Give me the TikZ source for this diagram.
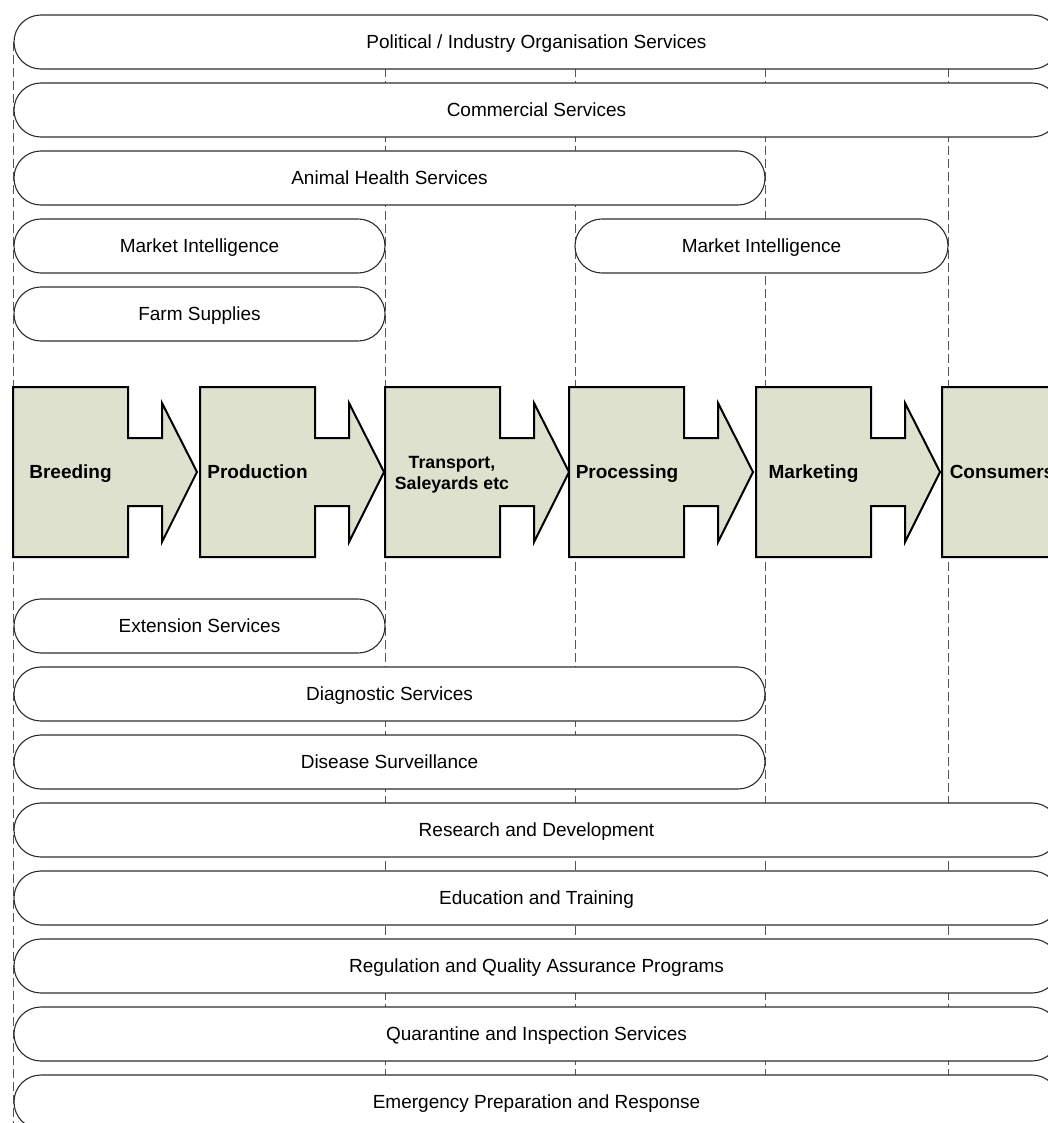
\documentclass[tikz,border=0pt]{standalone}
\usepackage{fontspec}
\setmainfont{Liberation Sans}
\definecolor{puzfill}{RGB}{222,225,205}
\definecolor{pillline}{RGB}{45,45,45}
\definecolor{guidecol}{RGB}{85,85,85}
\tikzset{
  pill/.style={draw=pillline, line width=1.1pt, fill=white, rounded corners=26.9pt,
    minimum height=54pt, inner sep=0pt, text height=13.6pt, text depth=0pt,
    font=\fontsize{19}{22}\selectfont},
  guide/.style={draw=guidecol, line width=1pt, dash pattern=on 9pt off 4pt},
  puzzle/.style={draw=black, line width=2pt, fill=puzfill, line join=miter},
  plabel/.style={font=\bfseries\fontsize{19}{22}\selectfont, inner sep=0pt,
    text height=13.6pt, text depth=0pt},
  puzzlepiece/.pic={\path[puzzle] (0,0) -- (115,0) -- (115,51) -- (149,51) -- (149,16)
    -- (184,85) -- (149,155) -- (149,119) -- (115,119) -- (115,170) -- (0,170) -- cycle;}
}
\begin{document}
\begin{tikzpicture}[x=1pt,y=-1pt]
\useasboundingbox (0,0) rectangle (1048,1123);
\clip (0,0) rectangle (1048,1123);
\fill[white] (0,0) rectangle (1048,1123);
% guide lines
\foreach \n/\gx in {a/13,b/385,c/575,d/765,e/948}{
  \coordinate (g\n top) at (\gx,42);
  \coordinate (g\n bot) at (\gx,1123);
  \draw[guide] (g\n top) -- (g\n bot);
}
% upper pills
\node[pill, minimum width=1045pt] (political) at (536.5,42) {Political / Industry Organisation Services};
\node[pill, minimum width=1045pt] (commercial) at (536.5,110) {Commercial Services};
\node[pill, minimum width=751pt] (animal) at (389.5,178) {Animal Health Services};
\node[pill, minimum width=371pt] (mi1) at (199.5,246) {Market Intelligence};
\node[pill, minimum width=373pt] (mi2) at (761.5,246) {Market Intelligence};
\node[pill, minimum width=371pt] (farm) at (199.5,314) {Farm Supplies};
% lower pills
\node[pill, minimum width=371pt] (extension) at (199.5,626) {Extension Services};
\node[pill, minimum width=751pt] (diagnostic) at (389.5,694) {Diagnostic Services};
\node[pill, minimum width=751pt] (disease) at (389.5,762) {Disease Surveillance};
\node[pill, minimum width=1045pt] (rd) at (536.5,830) {Research and Development};
\node[pill, minimum width=1045pt] (edu) at (536.5,898) {Education and Training};
\node[pill, minimum width=1045pt] (reg) at (536.5,966) {Regulation and Quality Assurance Programs};
\node[pill, minimum width=1045pt] (quar) at (536.5,1034) {Quarantine and Inspection Services};
\node[pill, minimum width=1045pt] (emerg) at (536.5,1102) {Emergency Preparation and Response};
% value chain pieces
\foreach \px in {13,200,385,569,756,942}{
  \path (\px,387) pic {puzzlepiece};
}
\node[plabel] (breeding) at (70.5,472) {Breeding};
\node[plabel] (production) at (257.5,472) {Production};
\node[font=\bfseries\fontsize{17.7}{21}\selectfont, align=center, inner sep=0pt] (transport) at (452,475) {Transport,\\Saleyards etc};
\node[plabel] (processing) at (627,472) {Processing};
\node[plabel] (marketing) at (813.5,472) {Marketing};
\node[plabel] (consumers) at (1002,472) {Consumers};
\end{tikzpicture}
\end{document}
